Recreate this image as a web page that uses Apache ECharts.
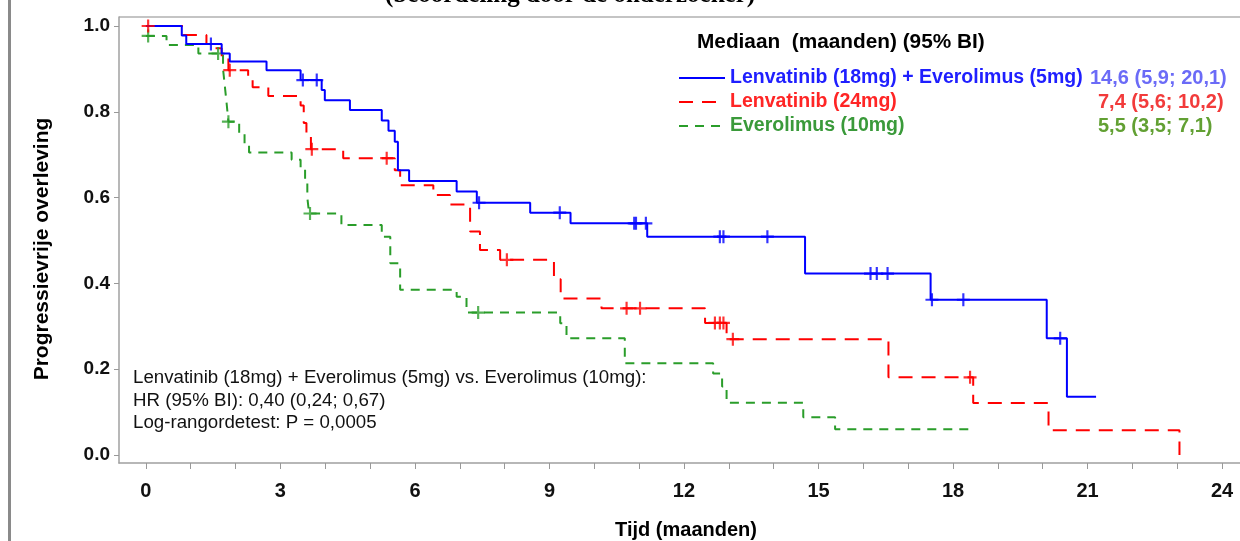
<!DOCTYPE html>
<html>
<head>
<meta charset="utf-8">
<script src="https://cdn.jsdelivr.net/npm/echarts@6.0.0/dist/echarts.min.js"></script>
<style>
  html, body { margin: 0; padding: 0; background: #fff; }
  #main { width: 1240px; height: 541px; }
</style>
</head>
<body>
<div id="main"></div>
<script>
// Kaplan-Meier stappen: [tijd (maanden), overleving]
var blueSteps = [
  [0, 1.0], [0.80, 0.978], [0.90, 0.958], [1.69, 0.936], [1.87, 0.917], [2.69, 0.897],
  [3.45, 0.874], [3.92, 0.851], [3.99, 0.827], [4.55, 0.804], [5.26, 0.780], [5.41, 0.756],
  [5.55, 0.730], [5.62, 0.664], [5.87, 0.639], [6.93, 0.614], [7.38, 0.588], [8.57, 0.565],
  [9.47, 0.540], [11.18, 0.509], [14.70, 0.423], [17.50, 0.362], [20.09, 0.272],
  [20.54, 0.136], [21.19, 0.136]
];
var redSteps = [
  [0, 1.0], [0.83, 0.979], [1.35, 0.958], [1.47, 0.948], [1.69, 0.928], [1.84, 0.897],
  [2.28, 0.874], [2.38, 0.857], [2.73, 0.837], [3.45, 0.815], [3.52, 0.774], [3.58, 0.750],
  [3.68, 0.713], [4.40, 0.692], [5.55, 0.664], [5.67, 0.629], [6.41, 0.606], [6.78, 0.584],
  [7.23, 0.521], [7.45, 0.478], [7.90, 0.455], [9.10, 0.410], [9.25, 0.365], [10.16, 0.342],
  [12.47, 0.308], [12.95, 0.270], [16.56, 0.181], [18.45, 0.121], [20.13, 0.058], [23.05, 0.0]
];
var greenSteps = [
  [0, 0.977], [0.46, 0.956], [1.17, 0.936], [1.72, 0.900], [1.76, 0.860], [1.80, 0.820],
  [1.84, 0.777], [2.08, 0.750], [2.20, 0.726], [2.30, 0.705], [3.25, 0.688], [3.45, 0.665],
  [3.55, 0.641], [3.60, 0.600], [3.64, 0.563], [4.36, 0.536], [5.26, 0.509], [5.45, 0.447],
  [5.67, 0.385], [6.93, 0.369], [7.15, 0.332], [9.24, 0.307], [9.38, 0.272], [10.68, 0.214],
  [12.65, 0.190], [12.85, 0.160], [12.95, 0.122], [14.66, 0.088], [15.37, 0.060], [18.45, 0.060]
];
// gecensureerde tijden
var blueCens = [1.45, 3.50, 3.81, 7.43, 9.23, 10.89, 10.93, 11.15, 12.80, 12.88, 13.86,
  16.16, 16.30, 16.54, 17.53, 18.23, 20.39];
var redCens = [0.05, 1.87, 3.70, 5.37, 8.05, 10.72, 11.02, 12.69, 12.80, 12.88, 13.09, 18.38];
var greenCens = [0.05, 1.61, 1.84, 3.66, 7.41];

var names = ['Lenvatinib (18mg) + Everolimus (5mg)', 'Lenvatinib (24mg)', 'Everolimus (10mg)'];
var medians = ['14,6 (5,9; 20,1)', '7,4 (5,6; 10,2)', '5,5 (3,5; 7,1)'];
var xLabels = [0, 3, 6, 9, 12, 15, 18, 21, 24];
var xTicks = [0,1,2,3,4,5,6,7,8,9,10,11,12,13,14,15,16,17,18,19,20,21,22,23,24];
var yLabels = [0, 0.2, 0.4, 0.6, 0.8, 1.0];

var lineCol = ['#0000ff', '#ff0000', '#2a9d2a'];
var textCol = ['#1f1fff', '#ff2525', '#3a9a3a'];
var medCol = ['#6b6bf7', '#f23b3b', '#62a033'];

function survAt(steps, t) {
  var s = steps[0][1];
  for (var i = 0; i < steps.length; i++) {
    if (steps[i][0] <= t) s = steps[i][1];
  }
  return s;
}
function censData(steps, times) {
  return times.map(function (t) { return [t, survAt(steps, t)]; });
}

var plus = 'path://M5,0 H7 V5 H12 V7 H7 V12 H5 V7 H0 V5 H5 Z';
var font = 'Liberation Sans';

function stepSeries(i, data, dash) {
  return {
    name: names[i], type: 'line', step: 'end', data: data,
    symbol: 'none', showSymbol: false, silent: true, z: 3 - i,
    lineStyle: { color: lineCol[i], width: 2, type: dash },
    itemStyle: { color: lineCol[i] }
  };
}
function censSeries(i, data) {
  return {
    name: names[i] + ' c', type: 'scatter', data: data, symbol: plus,
    symbolSize: 13, silent: true, z: 4 - i,
    itemStyle: { color: lineCol[i] }
  };
}

var chart = echarts.init(document.getElementById('main'), null, { renderer: 'canvas' });
chart.setOption({
  animation: false,
  textStyle: { fontFamily: font },
  grid: { left: 119, right: 0, top: 17, bottom: 78, show: false, outerBoundsMode: 'none', containLabel: false },
  xAxis: {
    type: 'value', min: -0.6, max: 24.4,
    axisLine: { onZero: false, lineStyle: { color: '#a0a0a0', width: 1.5 } },
    axisTick: { show: true, length: 6, customValues: xTicks, lineStyle: { color: '#999' } },
    axisLabel: { customValues: xLabels, margin: 18, fontFamily: font, fontWeight: 'bold', fontSize: 20, color: '#111' },
    splitLine: { show: false }
  },
  yAxis: {
    type: 'value', min: -0.0186, max: 1.021,
    axisLine: { show: true, onZero: false, lineStyle: { color: '#a0a0a0', width: 1.5 } },
    axisTick: { show: true, length: 5, customValues: yLabels, lineStyle: { color: '#999' } },
    axisLabel: {
      customValues: yLabels, margin: 9, fontFamily: font, fontWeight: 'bold', fontSize: 19, color: '#111',
      formatter: function (v) { return v.toFixed(1); }
    },
    splitLine: { show: false }
  },
  legend: {
    orient: 'vertical', left: 673, top: 63, itemWidth: 46, itemHeight: 12, itemGap: 4,
    selectedMode: false,
    itemStyle: { color: 'rgba(0,0,0,0)', borderWidth: 0 },
    data: names.map(function (n, i) {
      return { name: n, textStyle: { color: textCol[i], fontFamily: font, fontWeight: 'bold', fontSize: 19.5, lineHeight: 20 } };
    })
  },
  graphic: [
    { type: 'rect', left: 8, top: 0, shape: { width: 3, height: 541 }, style: { fill: '#8a8a8a' } },
    { type: 'line', shape: { x1: 119, y1: 17, x2: 1240, y2: 17 }, style: { stroke: '#b0b0b0', lineWidth: 1.5 } },
    { type: 'text', left: 385, top: -17, style: { text: '(beoordeling door de onderzoeker)', font: 'bold 25px "Liberation Serif"', fill: '#000' } },
    { type: 'text', x: 42, y: 249, rotation: Math.PI / 2, style: {
      text: 'Progressievrije overleving', font: 'bold 21px "Liberation Sans"', fill: '#000',
      align: 'center', verticalAlign: 'middle' } },
    { type: 'text', x: 686, y: 530, style: {
      text: 'Tijd (maanden)', font: 'bold 20px "Liberation Sans"', fill: '#000',
      align: 'center', verticalAlign: 'middle' } },
    { type: 'text', left: 697, top: 32, style: { text: 'Mediaan  (maanden) (95% BI)', font: 'bold 20.8px "Liberation Sans"', fill: '#000' } },
    { type: 'text', left: 1090, top: 68, style: { text: medians[0], font: 'bold 20px "Liberation Sans"', fill: medCol[0] } },
    { type: 'text', left: 1098, top: 92, style: { text: medians[1], font: 'bold 20px "Liberation Sans"', fill: medCol[1] } },
    { type: 'text', left: 1098, top: 116, style: { text: medians[2], font: 'bold 20px "Liberation Sans"', fill: medCol[2] } },
    { type: 'text', left: 133, top: 367, style: {
      text: 'Lenvatinib (18mg) + Everolimus (5mg) vs. Everolimus (10mg):\nHR (95% BI): 0,40 (0,24; 0,67)\nLog-rangordetest: P = 0,0005',
      font: '18.7px "Liberation Sans"', lineHeight: 22.5, fill: '#111' } }
  ],
  series: [
    stepSeries(0, blueSteps, 'solid'),
    stepSeries(1, redSteps, [14, 9]),
    stepSeries(2, greenSteps, [9, 7]),
    censSeries(0, censData(blueSteps, blueCens)),
    censSeries(1, censData(redSteps, redCens)),
    censSeries(2, censData(greenSteps, greenCens))
  ]
});
</script>
</body>
</html>
